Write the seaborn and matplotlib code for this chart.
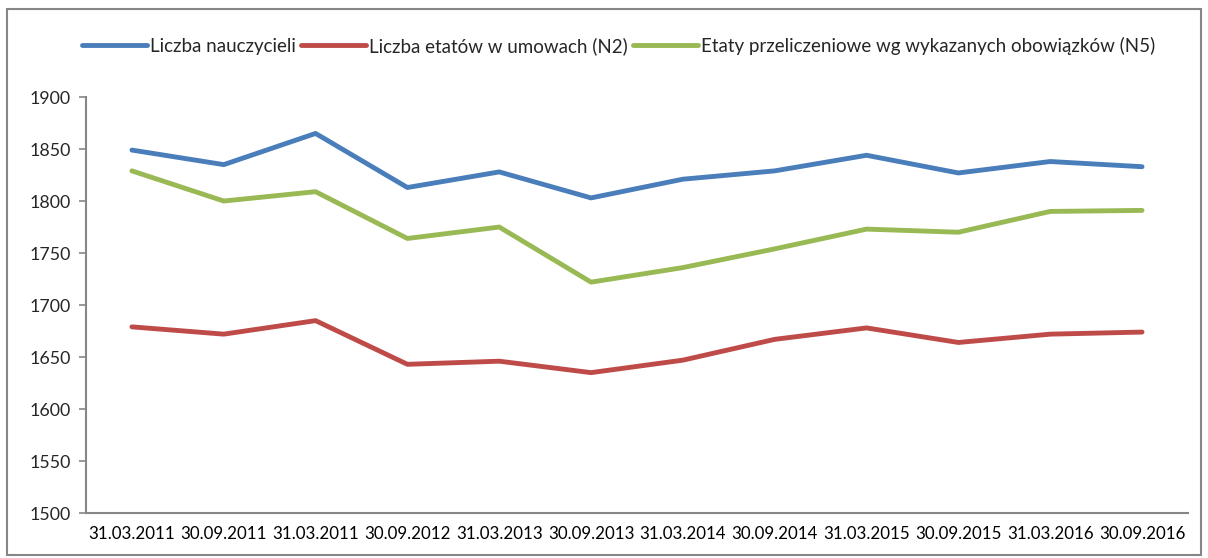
import numpy as np
import pandas as pd
import matplotlib
matplotlib.use("Agg")
import matplotlib.pyplot as plt
from matplotlib.patches import Rectangle
from matplotlib.ticker import FixedLocator, NullFormatter
import seaborn as sns

dates = ["31.03.2011", "30.09.2011", "31.03.2011", "30.09.2012", "31.03.2013", "30.09.2013",
         "31.03.2014", "30.09.2014", "31.03.2015", "30.09.2015", "31.03.2016", "30.09.2016"]
nauczyciele = [1849, 1835, 1865, 1813, 1828, 1803, 1821, 1829, 1844, 1827, 1838, 1833]
etaty_n2 = [1679, 1672, 1685, 1643, 1646, 1635, 1647, 1667, 1678, 1664, 1672, 1674]
etaty_n5 = [1829, 1800, 1809, 1764, 1775, 1722, 1736, 1754, 1773, 1770, 1790, 1791]
series_names = ["Liczba nauczycieli", "Liczba etatów w umowach (N2)",
                "Etaty przeliczeniowe wg wykazanych obowiązków (N5)"]
colors = ["#4A7EBB", "#BE4B48", "#98B954"]

# long table, x is the category index (labels repeat, so not usable directly)
df = pd.DataFrame({
    "pos": list(range(len(dates))) * 3,
    "value": nauczyciele + etaty_n2 + etaty_n5,
    "series": np.repeat(series_names, len(dates)),
})

sns.set_style("white")
plt.rcParams["font.family"] = ["Lato", "DejaVu Sans"]

fig = plt.figure(figsize=(12.08, 5.58), dpi=100)
ax = fig.add_axes([0.0712, 0.0806, 0.9122, 0.7455])

sns.lineplot(data=df, x="pos", y="value", hue="series", hue_order=series_names,
             palette=colors, linewidth=3.5, sort=False, ax=ax)

ax.set_xlim(-0.5, len(dates) - 0.5)
ax.set_ylim(1500, 1900)
ax.set_yticks(range(1500, 1901, 50))
ax.set_xticks(range(len(dates)))
ax.set_xticklabels(dates)
ax.xaxis.set_minor_locator(FixedLocator(np.arange(-0.5, len(dates), 1.0)))
ax.xaxis.set_minor_formatter(NullFormatter())
ax.tick_params(axis="x", which="major", length=0, pad=9, labelsize=12.2, colors="black")
ax.tick_params(axis="x", which="minor", length=5, width=1.2, color="#868686", direction="out")
ax.tick_params(axis="y", length=5, width=1.2, color="#868686", direction="out", pad=6,
               labelsize=12.8, left=True)
ax.set_xlabel("")
ax.set_ylabel("")
for side in ["top", "right"]:
    ax.spines[side].set_visible(False)
for side in ["left", "bottom"]:
    ax.spines[side].set_color("#868686")
    ax.spines[side].set_linewidth(1.5)

handles, labels = ax.get_legend_handles_labels()
ax.legend(handles, labels, loc="center", bbox_to_anchor=(0.512, 0.918),
          bbox_transform=fig.transFigure, ncol=3, frameon=False, fontsize=13.5,
          handlelength=3.5, handletextpad=0.15, columnspacing=0.25)

# chart area border
fig.patches.append(Rectangle((0.006, 0.006), 0.988, 0.978, transform=fig.transFigure,
                             fill=False, edgecolor="#868686", linewidth=1.5))

fig.savefig("out.png", dpi=100)
